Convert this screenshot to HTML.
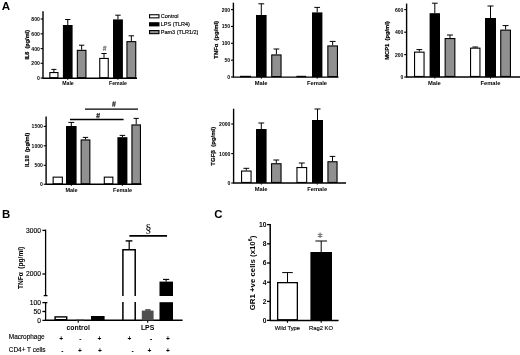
<!DOCTYPE html>
<html><head><meta charset="utf-8"><style>
html,body{margin:0;padding:0;background:#fff;}
body{width:520px;height:355px;overflow:hidden;}
svg{display:block;filter:blur(0.35px);}
</style></head><body>
<svg width="520" height="355" viewBox="0 0 520 355" font-family="Liberation Sans, sans-serif">
<rect width="520" height="355" fill="#fff"/>
<text x="1.8" y="10.4" font-family="Liberation Sans" font-size="11.6" font-weight="bold" text-anchor="start" fill="#000">A</text>
<line x1="43" y1="11.3" x2="43" y2="78.8" stroke="#000" stroke-width="1.4"/>
<line x1="40.6" y1="19" x2="43" y2="19" stroke="#000" stroke-width="1.1"/>
<text x="39.8" y="21.0" font-family="Liberation Sans" font-size="5.1" font-weight="bold" text-anchor="end" fill="#000">800</text>
<line x1="40.6" y1="33.8" x2="43" y2="33.8" stroke="#000" stroke-width="1.1"/>
<text x="39.8" y="35.8" font-family="Liberation Sans" font-size="5.1" font-weight="bold" text-anchor="end" fill="#000">600</text>
<line x1="40.6" y1="48.6" x2="43" y2="48.6" stroke="#000" stroke-width="1.1"/>
<text x="39.8" y="50.6" font-family="Liberation Sans" font-size="5.1" font-weight="bold" text-anchor="end" fill="#000">400</text>
<line x1="40.6" y1="63.3" x2="43" y2="63.3" stroke="#000" stroke-width="1.1"/>
<text x="39.8" y="65.3" font-family="Liberation Sans" font-size="5.1" font-weight="bold" text-anchor="end" fill="#000">200</text>
<line x1="40.6" y1="78" x2="43" y2="78" stroke="#000" stroke-width="1.1"/>
<text x="39.8" y="80.0" font-family="Liberation Sans" font-size="5.1" font-weight="bold" text-anchor="end" fill="#000">0</text>
<line x1="43" y1="78.2" x2="137" y2="78.2" stroke="#000" stroke-width="1.4"/>
<line x1="67.7" y1="78.2" x2="67.7" y2="79.8" stroke="#000" stroke-width="1.0"/>
<line x1="117.9" y1="78.2" x2="117.9" y2="79.8" stroke="#000" stroke-width="1.0"/>
<line x1="53.9" y1="69.4" x2="53.9" y2="72" stroke="#000" stroke-width="1.0"/>
<line x1="51.37" y1="69.4" x2="56.43" y2="69.4" stroke="#000" stroke-width="1.0"/>
<rect x="49.85" y="72.55" width="8.10" height="5.10" fill="#fff" stroke="#000" stroke-width="1.1"/>
<line x1="67.75" y1="19.5" x2="67.75" y2="25" stroke="#000" stroke-width="1.0"/>
<line x1="65.0825" y1="19.5" x2="70.4175" y2="19.5" stroke="#000" stroke-width="1.0"/>
<rect x="62.90" y="25.00" width="9.70" height="53.20" fill="#000"/>
<line x1="81.65" y1="45.2" x2="81.65" y2="49.8" stroke="#000" stroke-width="1.0"/>
<line x1="78.9825" y1="45.2" x2="84.31750000000001" y2="45.2" stroke="#000" stroke-width="1.0"/>
<rect x="77.35" y="50.35" width="8.60" height="27.30" fill="#909090" stroke="#000" stroke-width="1.1"/>
<line x1="104.0" y1="53.5" x2="104.0" y2="57.9" stroke="#000" stroke-width="1.0"/>
<line x1="101.36" y1="53.5" x2="106.64" y2="53.5" stroke="#000" stroke-width="1.0"/>
<rect x="99.75" y="58.45" width="8.50" height="19.20" fill="#fff" stroke="#000" stroke-width="1.1"/>
<line x1="117.95" y1="15.2" x2="117.95" y2="19.4" stroke="#000" stroke-width="1.0"/>
<line x1="115.2275" y1="15.2" x2="120.6725" y2="15.2" stroke="#000" stroke-width="1.0"/>
<rect x="113.00" y="19.40" width="9.90" height="58.80" fill="#000"/>
<line x1="131.35000000000002" y1="35.8" x2="131.35000000000002" y2="41.1" stroke="#000" stroke-width="1.0"/>
<line x1="128.62750000000003" y1="35.8" x2="134.07250000000002" y2="35.8" stroke="#000" stroke-width="1.0"/>
<rect x="126.95" y="41.65" width="8.80" height="36.00" fill="#909090" stroke="#000" stroke-width="1.1"/>
<path d="M104.35,45.80 L103.55,50.80 M106.05,45.80 L105.25,50.80 M102.95,47.30 H106.15 M102.75,49.30 H105.85" stroke="#777" stroke-width="0.9" fill="none"/>
<text x="68" y="85.2" font-family="Liberation Sans" font-size="5.2" font-weight="bold" text-anchor="middle" fill="#000">Male</text>
<text x="118" y="85.2" font-family="Liberation Sans" font-size="5.2" font-weight="bold" text-anchor="middle" fill="#000">Female</text>
<text x="28.6" y="44.8" font-family="Liberation Sans" font-size="5.55" font-weight="bold" text-anchor="middle" fill="#000" transform="rotate(-90 28.6 44.8)" stroke="#000" stroke-width="0.2">IL6&#160; (pg/ml)</text>
<rect x="149.55" y="14.75" width="9.40" height="3.10" fill="#fff" stroke="#000" stroke-width="1.1"/>
<rect x="149.00" y="22.20" width="10.50" height="4.20" fill="#000"/>
<rect x="149.55" y="30.55" width="9.40" height="3.10" fill="#909090" stroke="#000" stroke-width="1.1"/>
<text x="160.8" y="18.2" font-family="Liberation Sans" font-size="5.5" font-weight="normal" text-anchor="start" fill="#000" stroke="#000" stroke-width="0.15">Control</text>
<text x="160.8" y="26.2" font-family="Liberation Sans" font-size="5.5" font-weight="normal" text-anchor="start" fill="#000" stroke="#000" stroke-width="0.15">LPS (TLR4)</text>
<text x="160.8" y="34.2" font-family="Liberation Sans" font-size="5.5" font-weight="normal" text-anchor="start" fill="#000" stroke="#000" stroke-width="0.15">Pam3 (TLR1/2)</text>
<line x1="233.4" y1="2.7" x2="233.4" y2="77.69999999999999" stroke="#000" stroke-width="1.4"/>
<line x1="231.0" y1="9.6" x2="233.4" y2="9.6" stroke="#000" stroke-width="1.1"/>
<text x="230.20000000000002" y="11.6" font-family="Liberation Sans" font-size="5.1" font-weight="bold" text-anchor="end" fill="#000">200</text>
<line x1="231.0" y1="26.45" x2="233.4" y2="26.45" stroke="#000" stroke-width="1.1"/>
<text x="230.20000000000002" y="28.45" font-family="Liberation Sans" font-size="5.1" font-weight="bold" text-anchor="end" fill="#000">150</text>
<line x1="231.0" y1="43.3" x2="233.4" y2="43.3" stroke="#000" stroke-width="1.1"/>
<text x="230.20000000000002" y="45.3" font-family="Liberation Sans" font-size="5.1" font-weight="bold" text-anchor="end" fill="#000">100</text>
<line x1="231.0" y1="60.15" x2="233.4" y2="60.15" stroke="#000" stroke-width="1.1"/>
<text x="230.20000000000002" y="62.15" font-family="Liberation Sans" font-size="5.1" font-weight="bold" text-anchor="end" fill="#000">50</text>
<line x1="231.0" y1="77" x2="233.4" y2="77" stroke="#000" stroke-width="1.1"/>
<text x="230.20000000000002" y="79.0" font-family="Liberation Sans" font-size="5.1" font-weight="bold" text-anchor="end" fill="#000">0</text>
<line x1="233.4" y1="77.1" x2="338.5" y2="77.1" stroke="#000" stroke-width="1.4"/>
<line x1="261.3" y1="77.1" x2="261.3" y2="78.69999999999999" stroke="#000" stroke-width="1.0"/>
<line x1="317.2" y1="77.1" x2="317.2" y2="78.69999999999999" stroke="#000" stroke-width="1.0"/>
<rect x="240.00" y="75.80" width="11.00" height="1.40" fill="#000"/>
<line x1="261.3" y1="3.8" x2="261.3" y2="15" stroke="#000" stroke-width="1.0"/>
<line x1="258.385" y1="3.8" x2="264.21500000000003" y2="3.8" stroke="#000" stroke-width="1.0"/>
<rect x="256.00" y="15.00" width="10.60" height="62.10" fill="#000"/>
<line x1="276.4" y1="49" x2="276.4" y2="54.4" stroke="#000" stroke-width="1.0"/>
<line x1="273.53999999999996" y1="49" x2="279.26" y2="49" stroke="#000" stroke-width="1.0"/>
<rect x="271.75" y="54.95" width="9.30" height="21.60" fill="#909090" stroke="#000" stroke-width="1.1"/>
<rect x="296.40" y="75.80" width="9.80" height="1.40" fill="#000"/>
<line x1="317.2" y1="7.4" x2="317.2" y2="12.4" stroke="#000" stroke-width="1.0"/>
<line x1="314.34" y1="7.4" x2="320.06" y2="7.4" stroke="#000" stroke-width="1.0"/>
<rect x="312.00" y="12.40" width="10.40" height="64.70" fill="#000"/>
<line x1="332.65" y1="41.4" x2="332.65" y2="45.4" stroke="#000" stroke-width="1.0"/>
<line x1="329.7075" y1="41.4" x2="335.5925" y2="41.4" stroke="#000" stroke-width="1.0"/>
<rect x="327.85" y="45.95" width="9.60" height="30.60" fill="#909090" stroke="#000" stroke-width="1.1"/>
<text x="261.1" y="84.6" font-family="Liberation Sans" font-size="5.8" font-weight="bold" text-anchor="middle" fill="#000">Male</text>
<text x="317.0" y="84.6" font-family="Liberation Sans" font-size="5.8" font-weight="bold" text-anchor="middle" fill="#000">Female</text>
<text x="218.3" y="39.8" font-family="Liberation Sans" font-size="5.85" font-weight="bold" text-anchor="middle" fill="#000" transform="rotate(-90 218.3 39.8)" stroke="#000" stroke-width="0.2">TNF&#945;&#160; (pg/ml)</text>
<line x1="406.6" y1="3.6" x2="406.6" y2="77.6" stroke="#000" stroke-width="1.4"/>
<line x1="404.20000000000005" y1="9.6" x2="406.6" y2="9.6" stroke="#000" stroke-width="1.1"/>
<text x="403.40000000000003" y="11.6" font-family="Liberation Sans" font-size="5.1" font-weight="bold" text-anchor="end" fill="#000">600</text>
<line x1="404.20000000000005" y1="32.2" x2="406.6" y2="32.2" stroke="#000" stroke-width="1.1"/>
<text x="403.40000000000003" y="34.2" font-family="Liberation Sans" font-size="5.1" font-weight="bold" text-anchor="end" fill="#000">400</text>
<line x1="404.20000000000005" y1="54.6" x2="406.6" y2="54.6" stroke="#000" stroke-width="1.1"/>
<text x="403.40000000000003" y="56.6" font-family="Liberation Sans" font-size="5.1" font-weight="bold" text-anchor="end" fill="#000">200</text>
<line x1="404.20000000000005" y1="77" x2="406.6" y2="77" stroke="#000" stroke-width="1.1"/>
<text x="403.40000000000003" y="79.0" font-family="Liberation Sans" font-size="5.1" font-weight="bold" text-anchor="end" fill="#000">0</text>
<line x1="406.6" y1="77" x2="520" y2="77" stroke="#000" stroke-width="1.4"/>
<line x1="434.8" y1="77" x2="434.8" y2="78.6" stroke="#000" stroke-width="1.0"/>
<line x1="490.5" y1="77" x2="490.5" y2="78.6" stroke="#000" stroke-width="1.0"/>
<line x1="419.3" y1="49.6" x2="419.3" y2="51.6" stroke="#000" stroke-width="1.0"/>
<line x1="416.385" y1="49.6" x2="422.21500000000003" y2="49.6" stroke="#000" stroke-width="1.0"/>
<rect x="414.55" y="52.15" width="9.50" height="24.30" fill="#fff" stroke="#000" stroke-width="1.1"/>
<line x1="434.8" y1="3.2" x2="434.8" y2="13.2" stroke="#000" stroke-width="1.0"/>
<line x1="431.94" y1="3.2" x2="437.66" y2="3.2" stroke="#000" stroke-width="1.0"/>
<rect x="429.60" y="13.20" width="10.40" height="63.80" fill="#000"/>
<line x1="450.0" y1="35" x2="450.0" y2="38" stroke="#000" stroke-width="1.0"/>
<line x1="447.03000000000003" y1="35" x2="452.96999999999997" y2="35" stroke="#000" stroke-width="1.0"/>
<rect x="445.15" y="38.55" width="9.70" height="37.90" fill="#909090" stroke="#000" stroke-width="1.1"/>
<line x1="475.25" y1="47.0" x2="475.25" y2="47.6" stroke="#000" stroke-width="1.0"/>
<line x1="472.3625" y1="47.0" x2="478.1375" y2="47.0" stroke="#000" stroke-width="1.0"/>
<rect x="470.55" y="48.15" width="9.40" height="28.30" fill="#fff" stroke="#000" stroke-width="1.1"/>
<line x1="490.5" y1="6" x2="490.5" y2="18" stroke="#000" stroke-width="1.0"/>
<line x1="487.475" y1="6" x2="493.525" y2="6" stroke="#000" stroke-width="1.0"/>
<rect x="485.00" y="18.00" width="11.00" height="59.00" fill="#000"/>
<line x1="505.6" y1="25.6" x2="505.6" y2="29.6" stroke="#000" stroke-width="1.0"/>
<line x1="502.63" y1="25.6" x2="508.57000000000005" y2="25.6" stroke="#000" stroke-width="1.0"/>
<rect x="500.75" y="30.15" width="9.70" height="46.30" fill="#909090" stroke="#000" stroke-width="1.1"/>
<text x="434.35" y="84.6" font-family="Liberation Sans" font-size="5.8" font-weight="bold" text-anchor="middle" fill="#000">Male</text>
<text x="490.45" y="84.6" font-family="Liberation Sans" font-size="5.8" font-weight="bold" text-anchor="middle" fill="#000">Female</text>
<text x="389.2" y="40.5" font-family="Liberation Sans" font-size="5.8" font-weight="bold" text-anchor="middle" fill="#000" transform="rotate(-90 389.2 40.5)" stroke="#000" stroke-width="0.2">MCP1&#160; (pg/ml)</text>
<line x1="46.1" y1="116.6" x2="46.1" y2="184.85" stroke="#000" stroke-width="1.4"/>
<line x1="43.7" y1="126.4" x2="46.1" y2="126.4" stroke="#000" stroke-width="1.1"/>
<text x="42.9" y="128.4" font-family="Liberation Sans" font-size="5.1" font-weight="bold" text-anchor="end" fill="#000">1500</text>
<line x1="43.7" y1="145.8" x2="46.1" y2="145.8" stroke="#000" stroke-width="1.1"/>
<text x="42.9" y="147.8" font-family="Liberation Sans" font-size="5.1" font-weight="bold" text-anchor="end" fill="#000">1000</text>
<line x1="43.7" y1="165.3" x2="46.1" y2="165.3" stroke="#000" stroke-width="1.1"/>
<text x="42.9" y="167.3" font-family="Liberation Sans" font-size="5.1" font-weight="bold" text-anchor="end" fill="#000">500</text>
<line x1="43.7" y1="184.25" x2="46.1" y2="184.25" stroke="#000" stroke-width="1.1"/>
<text x="42.9" y="186.25" font-family="Liberation Sans" font-size="5.1" font-weight="bold" text-anchor="end" fill="#000">0</text>
<line x1="46.1" y1="184.25" x2="141.5" y2="184.25" stroke="#000" stroke-width="1.4"/>
<line x1="71.3" y1="184.25" x2="71.3" y2="185.85" stroke="#000" stroke-width="1.0"/>
<line x1="122.4" y1="184.25" x2="122.4" y2="185.85" stroke="#000" stroke-width="1.0"/>
<rect x="53.15" y="177.15" width="9.20" height="6.55" fill="#fff" stroke="#000" stroke-width="1.1"/>
<line x1="71.3" y1="122.4" x2="71.3" y2="126" stroke="#000" stroke-width="1.0"/>
<line x1="68.385" y1="122.4" x2="74.21499999999999" y2="122.4" stroke="#000" stroke-width="1.0"/>
<rect x="66.00" y="126.00" width="10.60" height="58.25" fill="#000"/>
<line x1="85.5" y1="137.4" x2="85.5" y2="139.4" stroke="#000" stroke-width="1.0"/>
<line x1="82.80499999999999" y1="137.4" x2="88.19500000000001" y2="137.4" stroke="#000" stroke-width="1.0"/>
<rect x="81.15" y="139.95" width="8.70" height="43.75" fill="#909090" stroke="#000" stroke-width="1.1"/>
<rect x="104.30" y="177.15" width="8.55" height="6.55" fill="#fff" stroke="#000" stroke-width="1.1"/>
<line x1="122.4" y1="135.4" x2="122.4" y2="137.2" stroke="#000" stroke-width="1.0"/>
<line x1="119.65" y1="135.4" x2="125.15" y2="135.4" stroke="#000" stroke-width="1.0"/>
<rect x="117.40" y="137.20" width="10.00" height="47.05" fill="#000"/>
<line x1="136.2" y1="118.4" x2="136.2" y2="124.4" stroke="#000" stroke-width="1.0"/>
<line x1="133.56" y1="118.4" x2="138.83999999999997" y2="118.4" stroke="#000" stroke-width="1.0"/>
<rect x="131.95" y="124.95" width="8.50" height="58.75" fill="#909090" stroke="#000" stroke-width="1.1"/>
<line x1="70" y1="119.5" x2="123.6" y2="119.5" stroke="#000" stroke-width="1.3"/>
<line x1="85" y1="109.2" x2="138" y2="109.2" stroke="#000" stroke-width="1.3"/>
<path d="M97.75,112.95 L96.95,118.35 M99.45,112.95 L98.65,118.35 M96.35,114.65 H99.85 M96.15,116.65 H99.55" stroke="#222" stroke-width="0.85" fill="none"/>
<path d="M113.55,101.30 L112.75,106.70 M115.25,101.30 L114.45,106.70 M112.15,103.00 H115.65 M111.95,105.00 H115.35" stroke="#222" stroke-width="0.85" fill="none"/>
<text x="71.5" y="191.6" font-family="Liberation Sans" font-size="5.5" font-weight="bold" text-anchor="middle" fill="#000">Male</text>
<text x="122.5" y="191.6" font-family="Liberation Sans" font-size="5.5" font-weight="bold" text-anchor="middle" fill="#000">Female</text>
<text x="28.6" y="149.8" font-family="Liberation Sans" font-size="5.8" font-weight="bold" text-anchor="middle" fill="#000" transform="rotate(-90 28.6 149.8)" stroke="#000" stroke-width="0.2">IL10&#160; (pg/ml)</text>
<line x1="233.6" y1="108.7" x2="233.6" y2="183.6" stroke="#000" stroke-width="1.4"/>
<line x1="231.2" y1="124" x2="233.6" y2="124" stroke="#000" stroke-width="1.1"/>
<text x="230.4" y="126.0" font-family="Liberation Sans" font-size="5.1" font-weight="bold" text-anchor="end" fill="#000">2000</text>
<line x1="231.2" y1="153.6" x2="233.6" y2="153.6" stroke="#000" stroke-width="1.1"/>
<text x="230.4" y="155.6" font-family="Liberation Sans" font-size="5.1" font-weight="bold" text-anchor="end" fill="#000">1000</text>
<line x1="231.2" y1="183" x2="233.6" y2="183" stroke="#000" stroke-width="1.1"/>
<text x="230.4" y="185.0" font-family="Liberation Sans" font-size="5.1" font-weight="bold" text-anchor="end" fill="#000">0</text>
<line x1="233.6" y1="183" x2="346" y2="183" stroke="#000" stroke-width="1.4"/>
<line x1="261.3" y1="183" x2="261.3" y2="184.6" stroke="#000" stroke-width="1.0"/>
<line x1="317.2" y1="183" x2="317.2" y2="184.6" stroke="#000" stroke-width="1.0"/>
<line x1="246.3" y1="168.3" x2="246.3" y2="170.5" stroke="#000" stroke-width="1.0"/>
<line x1="243.38500000000002" y1="168.3" x2="249.215" y2="168.3" stroke="#000" stroke-width="1.0"/>
<rect x="241.55" y="171.05" width="9.50" height="11.40" fill="#fff" stroke="#000" stroke-width="1.1"/>
<line x1="261.3" y1="123" x2="261.3" y2="129" stroke="#000" stroke-width="1.0"/>
<line x1="258.385" y1="123" x2="264.21500000000003" y2="123" stroke="#000" stroke-width="1.0"/>
<rect x="256.00" y="129.00" width="10.60" height="54.00" fill="#000"/>
<line x1="276.3" y1="160" x2="276.3" y2="163.2" stroke="#000" stroke-width="1.0"/>
<line x1="273.385" y1="160" x2="279.21500000000003" y2="160" stroke="#000" stroke-width="1.0"/>
<rect x="271.55" y="163.75" width="9.50" height="18.70" fill="#909090" stroke="#000" stroke-width="1.1"/>
<line x1="301.79999999999995" y1="163" x2="301.79999999999995" y2="167" stroke="#000" stroke-width="1.0"/>
<line x1="298.8299999999999" y1="163" x2="304.77" y2="163" stroke="#000" stroke-width="1.0"/>
<rect x="296.95" y="167.55" width="9.70" height="14.90" fill="#fff" stroke="#000" stroke-width="1.1"/>
<line x1="317.5" y1="109" x2="317.5" y2="120" stroke="#000" stroke-width="1.0"/>
<line x1="314.475" y1="109" x2="320.525" y2="109" stroke="#000" stroke-width="1.0"/>
<rect x="312.00" y="120.00" width="11.00" height="63.00" fill="#000"/>
<line x1="332.5" y1="156.4" x2="332.5" y2="161.2" stroke="#000" stroke-width="1.0"/>
<line x1="329.695" y1="156.4" x2="335.305" y2="156.4" stroke="#000" stroke-width="1.0"/>
<rect x="327.95" y="161.75" width="9.10" height="20.70" fill="#909090" stroke="#000" stroke-width="1.1"/>
<text x="261.1" y="191.0" font-family="Liberation Sans" font-size="5.8" font-weight="bold" text-anchor="middle" fill="#000">Male</text>
<text x="317.2" y="191.0" font-family="Liberation Sans" font-size="5.8" font-weight="bold" text-anchor="middle" fill="#000">Female</text>
<text x="214.6" y="146.2" font-family="Liberation Sans" font-size="6.0" font-weight="bold" text-anchor="middle" fill="#000" transform="rotate(-90 214.6 146.2)" stroke="#000" stroke-width="0.2">TGF&#946;&#160; (pg/ml)</text>
<text x="1.9" y="218.2" font-family="Liberation Sans" font-size="11.4" font-weight="bold" text-anchor="start" fill="#000">B</text>
<line x1="45.6" y1="229.6" x2="45.6" y2="295.6" stroke="#000" stroke-width="1.3"/>
<line x1="45.6" y1="302" x2="45.6" y2="321" stroke="#000" stroke-width="1.3"/>
<line x1="42.4" y1="230.4" x2="45.6" y2="230.4" stroke="#000" stroke-width="1.3"/>
<text x="41.0" y="232.85" font-family="Liberation Sans" font-size="6.7" font-weight="normal" text-anchor="end" fill="#000" stroke="#000" stroke-width="0.14">3000</text>
<line x1="42.4" y1="274" x2="45.6" y2="274" stroke="#000" stroke-width="1.3"/>
<text x="41.0" y="276.45" font-family="Liberation Sans" font-size="6.7" font-weight="normal" text-anchor="end" fill="#000" stroke="#000" stroke-width="0.14">2000</text>
<line x1="42.4" y1="302.6" x2="45.6" y2="302.6" stroke="#000" stroke-width="1.3"/>
<text x="41.0" y="305.05" font-family="Liberation Sans" font-size="6.7" font-weight="normal" text-anchor="end" fill="#000" stroke="#000" stroke-width="0.14">100</text>
<line x1="42.4" y1="311.5" x2="45.6" y2="311.5" stroke="#000" stroke-width="1.3"/>
<text x="41.0" y="313.95" font-family="Liberation Sans" font-size="6.7" font-weight="normal" text-anchor="end" fill="#000" stroke="#000" stroke-width="0.14">50</text>
<line x1="42.4" y1="320.4" x2="45.6" y2="320.4" stroke="#000" stroke-width="1.3"/>
<text x="41.0" y="322.84999999999997" font-family="Liberation Sans" font-size="6.7" font-weight="normal" text-anchor="end" fill="#000" stroke="#000" stroke-width="0.14">0</text>
<line x1="43.7" y1="295.6" x2="47.5" y2="295.6" stroke="#000" stroke-width="1.3"/>
<line x1="45.6" y1="302.6" x2="47.4" y2="302.6" stroke="#000" stroke-width="1.3"/>
<line x1="45.6" y1="320.3" x2="182.6" y2="320.3" stroke="#000" stroke-width="1.6"/>
<line x1="78.2" y1="320.4" x2="78.2" y2="322.8" stroke="#000" stroke-width="1.1"/>
<line x1="147.7" y1="320.4" x2="147.7" y2="322.8" stroke="#000" stroke-width="1.1"/>
<rect x="55.10" y="316.90" width="11.60" height="2.80" fill="#fff" stroke="#000" stroke-width="1.4"/>
<rect x="76.00" y="319.40" width="8.00" height="1.00" fill="#505050"/>
<rect x="91.00" y="316.00" width="13.60" height="4.40" fill="#000"/>
<line x1="129.2" y1="240.9" x2="129.2" y2="249" stroke="#000" stroke-width="1.2"/>
<line x1="125.6" y1="240.9" x2="132.4" y2="240.9" stroke="#000" stroke-width="1.4"/>
<path d="M122.9,296 V249.7 H135.2 V296 M122.9,302 V320.4 M135.2,302 V320.4" fill="none" stroke="#000" stroke-width="1.5"/>
<line x1="145.2" y1="310.0" x2="150.6" y2="310.0" stroke="#000" stroke-width="1.2"/>
<rect x="141.80" y="310.60" width="11.80" height="9.80" fill="#505050"/>
<line x1="166.1" y1="279.4" x2="166.1" y2="281.6" stroke="#000" stroke-width="1.1"/>
<line x1="163" y1="279.4" x2="169.2" y2="279.4" stroke="#000" stroke-width="1.1"/>
<rect x="159.50" y="281.60" width="13.50" height="14.40" fill="#000"/>
<rect x="159.50" y="302.20" width="13.50" height="18.20" fill="#000"/>
<line x1="129.4" y1="235.8" x2="167" y2="235.8" stroke="#000" stroke-width="1.8"/>
<text x="148.4" y="233.2" font-family="Liberation Serif" font-size="12.5" font-weight="normal" text-anchor="middle" fill="#000">&#167;</text>
<text x="78.2" y="330.2" font-family="Liberation Sans" font-size="6.9" font-weight="bold" text-anchor="middle" fill="#000">control</text>
<text x="147.6" y="330.2" font-family="Liberation Sans" font-size="6.9" font-weight="bold" text-anchor="middle" fill="#000">LPS</text>
<text x="22.8" y="267.9" font-family="Liberation Sans" font-size="7.6" font-weight="bold" text-anchor="middle" fill="#000" transform="rotate(-90 22.8 267.9)" textLength="42.3" lengthAdjust="spacingAndGlyphs">TNF&#945;&#160; (pg/ml)</text>
<text x="8.8" y="339.3" font-family="Liberation Sans" font-size="6.45" font-weight="normal" text-anchor="start" fill="#000" stroke="#000" stroke-width="0.14">Macrophage</text>
<text x="8.8" y="351.5" font-family="Liberation Sans" font-size="6.45" font-weight="normal" text-anchor="start" fill="#000" stroke="#000" stroke-width="0.14">CD4+ T cells</text>
<text x="61.3" y="340.6" font-family="Liberation Sans" font-size="6.6" font-weight="bold" text-anchor="middle" fill="#000">+</text>
<text x="80.4" y="340.6" font-family="Liberation Sans" font-size="6.6" font-weight="bold" text-anchor="middle" fill="#000">-</text>
<text x="99.4" y="340.6" font-family="Liberation Sans" font-size="6.6" font-weight="bold" text-anchor="middle" fill="#000">+</text>
<text x="129.4" y="340.6" font-family="Liberation Sans" font-size="6.6" font-weight="bold" text-anchor="middle" fill="#000">+</text>
<text x="151" y="340.6" font-family="Liberation Sans" font-size="6.6" font-weight="bold" text-anchor="middle" fill="#000">-</text>
<text x="168" y="340.6" font-family="Liberation Sans" font-size="6.6" font-weight="bold" text-anchor="middle" fill="#000">+</text>
<text x="62.4" y="352.6" font-family="Liberation Sans" font-size="6.6" font-weight="bold" text-anchor="middle" fill="#000">-</text>
<text x="80" y="352.6" font-family="Liberation Sans" font-size="6.6" font-weight="bold" text-anchor="middle" fill="#000">+</text>
<text x="100" y="352.6" font-family="Liberation Sans" font-size="6.6" font-weight="bold" text-anchor="middle" fill="#000">+</text>
<text x="132.6" y="352.6" font-family="Liberation Sans" font-size="6.6" font-weight="bold" text-anchor="middle" fill="#000">-</text>
<text x="149.4" y="352.6" font-family="Liberation Sans" font-size="6.6" font-weight="bold" text-anchor="middle" fill="#000">+</text>
<text x="168" y="352.6" font-family="Liberation Sans" font-size="6.6" font-weight="bold" text-anchor="middle" fill="#000">+</text>
<text x="214.2" y="218.2" font-family="Liberation Sans" font-size="11.4" font-weight="bold" text-anchor="start" fill="#000">C</text>
<line x1="270.2" y1="224.1" x2="270.2" y2="321" stroke="#000" stroke-width="1.5"/>
<line x1="267" y1="224.6" x2="270.2" y2="224.6" stroke="#000" stroke-width="1.3"/>
<text x="266.4" y="227.0" font-family="Liberation Sans" font-size="6.7" font-weight="bold" text-anchor="end" fill="#000">10</text>
<line x1="267" y1="243.8" x2="270.2" y2="243.8" stroke="#000" stroke-width="1.3"/>
<text x="266.4" y="246.20000000000002" font-family="Liberation Sans" font-size="6.7" font-weight="bold" text-anchor="end" fill="#000">8</text>
<line x1="267" y1="263" x2="270.2" y2="263" stroke="#000" stroke-width="1.3"/>
<text x="266.4" y="265.4" font-family="Liberation Sans" font-size="6.7" font-weight="bold" text-anchor="end" fill="#000">6</text>
<line x1="267" y1="282.2" x2="270.2" y2="282.2" stroke="#000" stroke-width="1.3"/>
<text x="266.4" y="284.59999999999997" font-family="Liberation Sans" font-size="6.7" font-weight="bold" text-anchor="end" fill="#000">4</text>
<line x1="267" y1="301.4" x2="270.2" y2="301.4" stroke="#000" stroke-width="1.3"/>
<text x="266.4" y="303.79999999999995" font-family="Liberation Sans" font-size="6.7" font-weight="bold" text-anchor="end" fill="#000">2</text>
<line x1="267" y1="320.4" x2="270.2" y2="320.4" stroke="#000" stroke-width="1.3"/>
<text x="266.4" y="322.79999999999995" font-family="Liberation Sans" font-size="6.7" font-weight="bold" text-anchor="end" fill="#000">0</text>
<line x1="270" y1="320.4" x2="338.6" y2="320.4" stroke="#000" stroke-width="1.5"/>
<line x1="287.4" y1="320.4" x2="287.4" y2="322.8" stroke="#000" stroke-width="1.1"/>
<line x1="321.2" y1="320.4" x2="321.2" y2="322.8" stroke="#000" stroke-width="1.1"/>
<line x1="287.5" y1="272.6" x2="287.5" y2="282" stroke="#000" stroke-width="1.0"/>
<line x1="282.2" y1="272.6" x2="292.8" y2="272.6" stroke="#000" stroke-width="1.0"/>
<rect x="277.65" y="282.65" width="19.70" height="37.10" fill="#fff" stroke="#000" stroke-width="1.3"/>
<line x1="321.2" y1="241" x2="321.2" y2="252" stroke="#000" stroke-width="1.0"/>
<line x1="315.4" y1="241" x2="327.0" y2="241" stroke="#000" stroke-width="1.0"/>
<rect x="310.40" y="252.00" width="21.60" height="68.40" fill="#000"/>
<path d="M320.1,232.5 V237.9 M317.8,233.9 L322.4,236.5 M317.8,236.5 L322.4,233.9" stroke="#777" stroke-width="1.1" fill="none"/>
<text x="287.4" y="330" font-family="Liberation Sans" font-size="5.8" font-weight="normal" text-anchor="middle" fill="#000" stroke="#000" stroke-width="0.14">Wild Type</text>
<text x="321" y="330" font-family="Liberation Sans" font-size="5.8" font-weight="normal" text-anchor="middle" fill="#000" stroke="#000" stroke-width="0.14">Rag2 KO</text>
<text x="254.9" y="273" font-family="Liberation Sans" font-size="8.1" font-weight="bold" text-anchor="middle" fill="#000" transform="rotate(-90 254.9 273)" textLength="74.5" lengthAdjust="spacingAndGlyphs">GR1 +ve cells (x10<tspan dy="-3.2" font-size="5.4">6</tspan><tspan dy="3.2">)</tspan></text>
</svg>
</body></html>
